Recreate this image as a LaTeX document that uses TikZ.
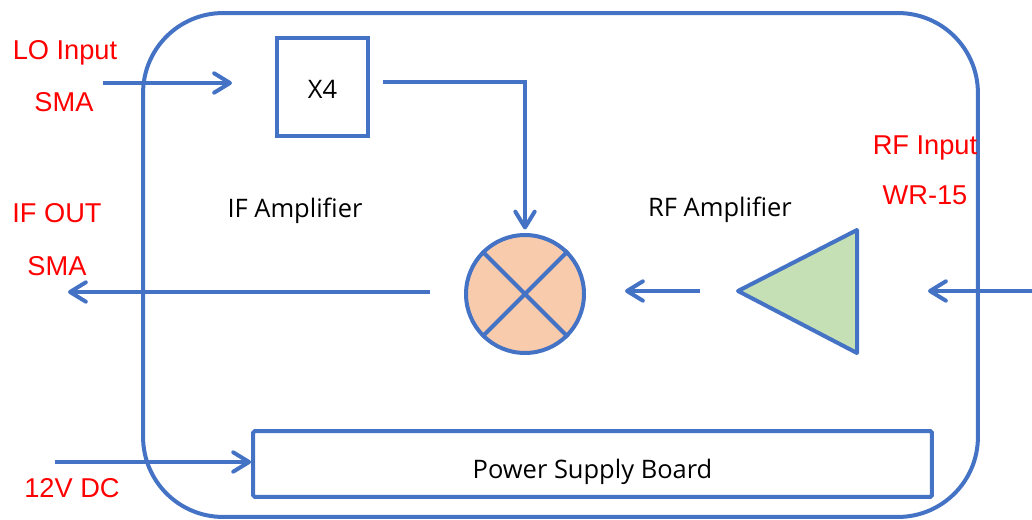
\documentclass[tikz,border=0pt]{standalone}
\usepackage{fontspec}
\setmainfont{Open Sans}
\newfontfamily\portfont{Liberation Sans}
\usetikzlibrary{arrows.meta,calc,positioning}
\definecolor{lineblue}{HTML}{4472C4}
\definecolor{mixfill}{HTML}{F8CBAD}
\definecolor{ampfill}{HTML}{C5E0B4}

\begin{document}
\begin{tikzpicture}[
    x=0.02cm, y=-0.02cm,
    >={Straight Barb[length=9pt,width=11pt,round]},
    block/.style={
      rectangle,
      draw=lineblue,
      line width=0.08cm,
      inner sep=0pt,
      text depth=0pt,
      font=\fontsize{14.5}{17}\selectfont
    },
    mixer/.style={
      circle,
      draw=lineblue,
      fill=mixfill,
      line width=0.08cm,
      minimum size=2.36cm,
      inner sep=0pt
    },
    port-label/.style={
      text=red,
      font=\portfont\fontsize{15.5}{18}\selectfont,
      anchor=base,
      inner sep=0pt
    },
    stage-label/.style={
      font=\fontsize{14.5}{17}\selectfont,
      anchor=base,
      inner sep=0pt
    },
    wire/.style={draw=lineblue, line width=0.08cm},
  ]
  \useasboundingbox (0,0) rectangle (1032,520);

  %%%%%%%%%%%%%%%%%%%%%%%%%%%%%%%%%%%%%%%%%%%%%%
  %%%%%%%%%%%%%%%% ACTUAL NODES %%%%%%%%%%%%%%%%%%%
  %%%%%%%%%%%%%%%%%%%%%%%%%%%%%%%%%%%%%%%%%%%%%%
    \node[block, rounded corners=1.6cm, minimum width=16.7cm, minimum height=10.08cm] (frame) at (560.5,265) {};

    \node[block, text height=13.6pt, minimum width=1.82cm, minimum height=1.96cm] (X4) at (322.5,87) {X4};

    \node[mixer] (mixer) at (525,294) {};

    \node[block, text height=16pt, rounded corners=1pt, minimum width=13.58cm, minimum height=1.32cm] (PSB) at (592.5,464) {Power Supply Board};

    \node[stage-label] (IF-amp) at (295,218) {IF Amplifier};
    \node[stage-label] (RF-amp) at (720,217) {RF Amplifier};

    \node[port-label] (LO) at (65,60) {LO Input};
    \node[port-label] (LO-sma) at (64,112) {SMA};
    \node[port-label] (IF) at (57,223) {IF OUT};
    \node[port-label] (IF-sma) at (57,276) {SMA};
    \node[port-label] (RF) at (925,155) {RF Input};
    \node[port-label] (RF-wr) at (925,205) {WR-15};
    \node[port-label] (DC) at (72,498) {12V DC};

  %%%%%%%%%%%%%%%%%%%%%%%%%%%%%%%%%%%%%%%%%%%%%%
  %%%%%%%%%%%%%%%% HELPING NODES %%%%%%%%%%%%%%%%%%%
  %%%%%%%%%%%%%%%%%%%%%%%%%%%%%%%%%%%%%%%%%%%%%%
    \coordinate (amp-tip) at (738,291);
    \coordinate (amp-top) at (857,230);
    \coordinate (amp-bot) at (857,353);

    \coordinate (LO-in) at (103,83);
    \coordinate (LO-X4) at (232,83);

    \coordinate (X4-mixer) at (383,82);

    \coordinate (mixer-IF) at (430,292);
    \coordinate (IF-out) at (68,292);

    \coordinate (amp-mixer) at (700,291);
    \coordinate (mixer-amp) at (625,291);

    \coordinate (RF-in) at (1032,291);
    \coordinate (RF-amp-in) at (928,291);

    \coordinate (DC-in) at (55,462);

  %%%%%%%%%%%%%%%%%%%%%%%%%%%%%%%%%%%%%%%%%%%%%%
  %%%%%%%%%%%%%%%%%% PATHS %%%%%%%%%%%%%%%%%%%%%%%
  %%%%%%%%%%%%%%%%%%%%%%%%%%%%%%%%%%%%%%%%%%%%%%
    \path[wire, fill=ampfill, line join=round] (amp-tip) -- (amp-top) -- (amp-bot) -- cycle;

    \path[wire] (mixer.north west) -- (mixer.south east);
    \path[wire] (mixer.north east) -- (mixer.south west);

    \path[->, wire] (LO-in) -- (LO-X4);
    \path[->, wire, shorten >=2pt] (X4-mixer) -| (mixer.north);
    \path[->, wire] (mixer-IF) -- (IF-out);
    \path[->, wire] (amp-mixer) -- (mixer-amp);
    \path[->, wire] (RF-in) -- (RF-amp-in);
    \path[->, wire] (DC-in) -- (DC-in -| PSB.west);

\end{tikzpicture}
\end{document}
